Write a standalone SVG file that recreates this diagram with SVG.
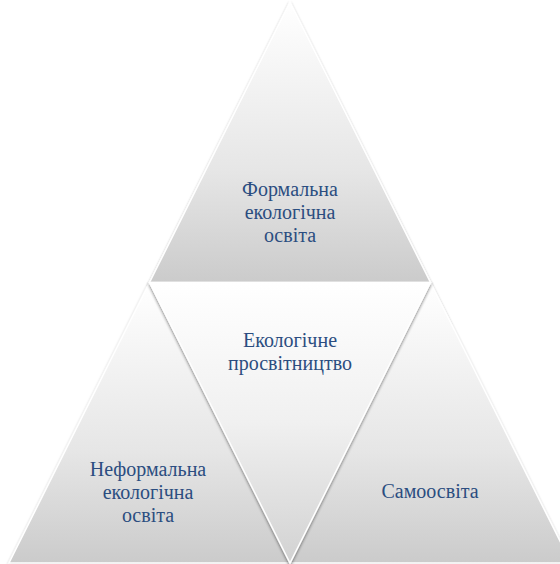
<svg xmlns="http://www.w3.org/2000/svg" width="560" height="564" viewBox="0 0 560 564">
<defs>
<linearGradient id="gUp" x1="0" y1="0" x2="0" y2="1">
<stop offset="0" stop-color="#ffffff"/>
<stop offset="0.6" stop-color="#e6e6e6"/>
<stop offset="1" stop-color="#cbcbcb"/>
</linearGradient>
<linearGradient id="gDown" x1="0" y1="0" x2="0" y2="1">
<stop offset="0" stop-color="#ffffff"/>
<stop offset="0.5" stop-color="#f0f0f0"/>
<stop offset="1" stop-color="#d2d2d2"/>
</linearGradient>
<filter id="sh" x="-10%" y="-10%" width="120%" height="120%">
<feGaussianBlur in="SourceAlpha" stdDeviation="1.5"/>
<feOffset dx="0" dy="1.5" result="b"/>
<feComponentTransfer><feFuncA type="linear" slope="0.45"/></feComponentTransfer>
<feMerge><feMergeNode/><feMergeNode in="SourceGraphic"/></feMerge>
</filter>
</defs>
<style>
.tri{stroke:#ffffff;stroke-width:1.5;stroke-linejoin:miter;filter:url(#sh);}
.lbl{font-family:'Liberation Serif','DejaVu Serif',serif;font-size:20px;fill:#2b4d80;text-anchor:middle;}
</style>
<rect width="560" height="564" fill="#ffffff"/>
<g id="top">
<polygon class="tri" points="290,2 430.5,282.5 149.5,282.5" fill="url(#gUp)"/>
<text class="lbl" x="290" y="196">Формальна</text>
<text class="lbl" x="290" y="219">екологічна</text>
<text class="lbl" x="290" y="242">освіта</text>
</g>
<g id="left">
<polygon class="tri" points="149.5,282.5 290,563 9,563" fill="url(#gUp)"/>
<text class="lbl" x="148" y="476">Неформальна</text>
<text class="lbl" x="148" y="499">екологічна</text>
<text class="lbl" x="148" y="522">освіта</text>
</g>
<g id="right">
<polygon class="tri" points="430.5,282.5 571,563 290,563" fill="url(#gUp)"/>
<text class="lbl" x="430" y="498">Самоосвіта</text>
</g>
<g id="center">
<polygon class="tri" points="149.5,282.5 430.5,282.5 290,563" fill="url(#gDown)"/>
<text class="lbl" x="290" y="347">Екологічне</text>
<text class="lbl" x="290" y="370">просвітництво</text>
</g>
<g id="connectors"/>
</svg>
